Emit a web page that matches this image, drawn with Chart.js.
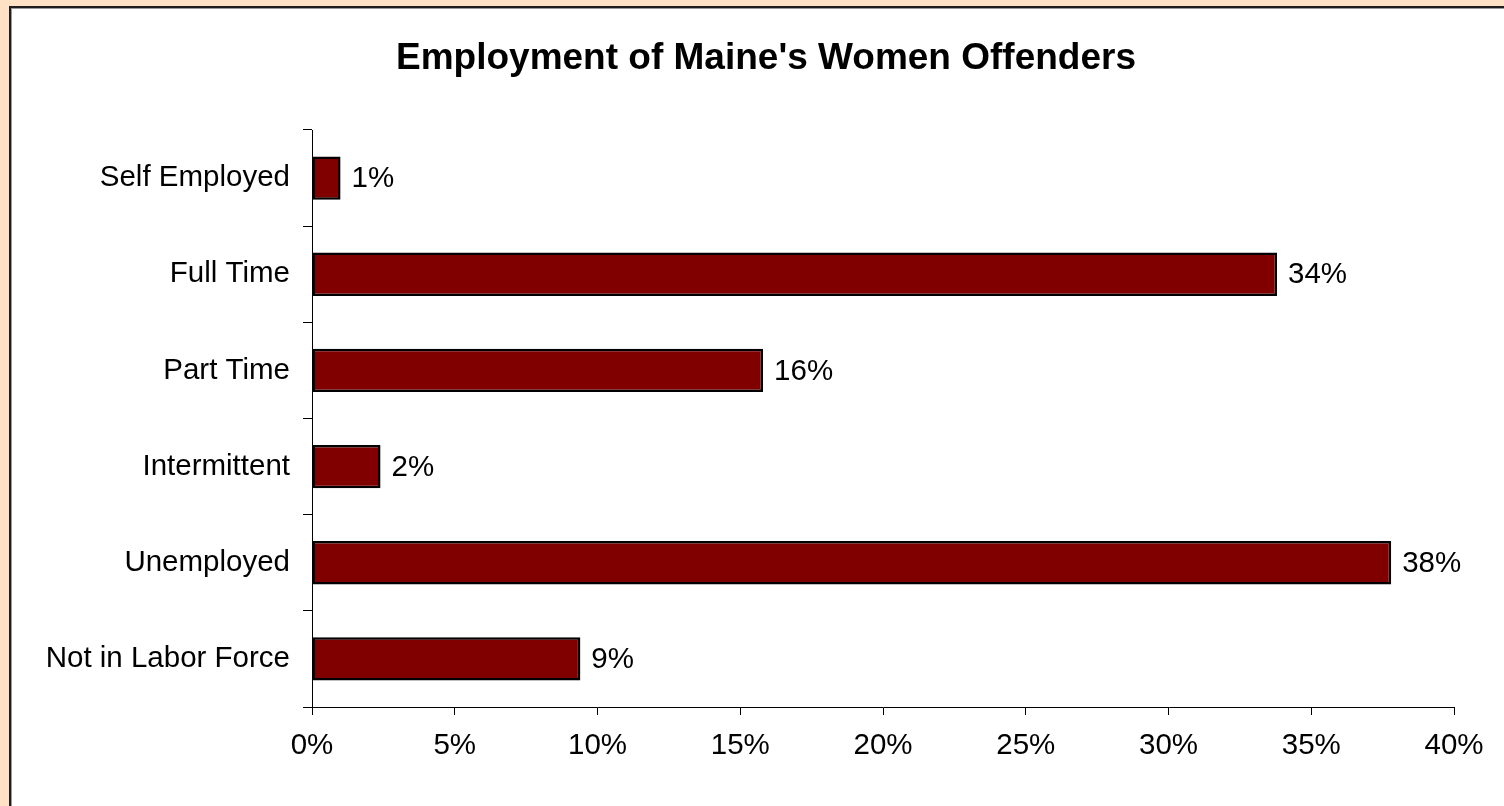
<!DOCTYPE html>
<html>
<head>
<meta charset="utf-8">
<title>Employment of Maine's Women Offenders</title>
<script src="https://cdn.jsdelivr.net/npm/chart.js@4/dist/chart.umd.min.js"></script>
<style>
  html, body { margin: 0; padding: 0; }
  body { width: 1504px; height: 806px; background: #ffe1c6; position: relative; overflow: hidden; }
  #panel {
    position: absolute; left: 9px; top: 6px; right: -10px; bottom: -10px;
    background: #fff; border-left: 2px solid #1e1e1e; border-top: 2px solid #1e1e1e;
    box-shadow: inset 1px 1px 0 #9a9a9a;
  }
  #chart { position: absolute; left: 0; top: 0; }
</style>
</head>
<body>
<div id="panel"></div>
<canvas id="chart" width="1504" height="806"></canvas>
<script>
// employment status, percent of women offenders
const chartTitle = "Employment of Maine's Women Offenders";
const categories = ['Self Employed', 'Full Time', 'Part Time', 'Intermittent', 'Unemployed', 'Not in Labor Force'];
const shares = [1.0, 33.8, 15.8, 2.4, 37.8, 9.4];
const axisMin = 0;
const axisMax = 40;
const axisStep = 5;

const FONT = "'Liberation Sans', Arial, sans-serif";
Chart.defaults.font.family = FONT;
Chart.defaults.color = '#000';

// title sits centred on the white panel, not on the canvas
const panelTitle = {
    id: 'panelTitle',
    afterDraw(chart) {
        const ctx = chart.ctx;
        ctx.save();
        ctx.font = 'bold 37px ' + FONT;
        ctx.fillStyle = '#000';
        ctx.textAlign = 'center';
        ctx.textBaseline = 'middle';
        ctx.fillText(chartTitle, 766, 59);
        ctx.restore();
    }
};

// writes the rounded percentage just past the end of each bar
const barValueLabels = {
    id: 'barValueLabels',
    afterDatasetsDraw(chart) {
        const ctx = chart.ctx;
        const meta = chart.getDatasetMeta(0);
        ctx.save();
        ctx.font = '29.5px ' + FONT;
        ctx.fillStyle = '#000';
        ctx.textAlign = 'left';
        ctx.textBaseline = 'middle';
        meta.data.forEach((bar, i) => {
            const v = chart.data.datasets[0].data[i];
            ctx.fillText(Math.round(v) + '%', bar.x + 11, bar.y + 1);
        });
        ctx.restore();
    }
};

new Chart(document.getElementById('chart'), {
    type: 'bar',
    data: {
        labels: categories,
        datasets: [{
            data: shares,
            backgroundColor: '#800000',
            borderColor: '#000',
            borderWidth: 2.5,
            borderSkipped: false,
            categoryPercentage: 1,
            barPercentage: 0.45
        }]
    },
    options: {
        indexAxis: 'y',
        responsive: false,
        animation: false,
        devicePixelRatio: 1,
        layout: { padding: { left: 0, right: 50, top: 130, bottom: 0 } },
        plugins: {
            legend: { display: false },
            tooltip: { enabled: false },
            title: { display: false }
        },
        scales: {
            x: {
                min: axisMin,
                max: axisMax,
                ticks: {
                    stepSize: axisStep,
                    padding: 13,
                    font: { size: 29.5 },
                    callback: v => v + '%'
                },
                grid: { drawOnChartArea: false, tickLength: 8, color: '#000' },
                border: { color: '#000', width: 1 },
                afterFit: scale => { scale.height = 99; }
            },
            y: {
                ticks: { padding: 13, font: { size: 29.5 } },
                grid: { drawOnChartArea: false, tickLength: 9, color: '#000', offset: true },
                border: { color: '#000', width: 1 },
                afterFit: scale => { scale.width = 312; }
            }
        }
    },
    plugins: [barValueLabels, panelTitle]
});
</script>
</body>
</html>
